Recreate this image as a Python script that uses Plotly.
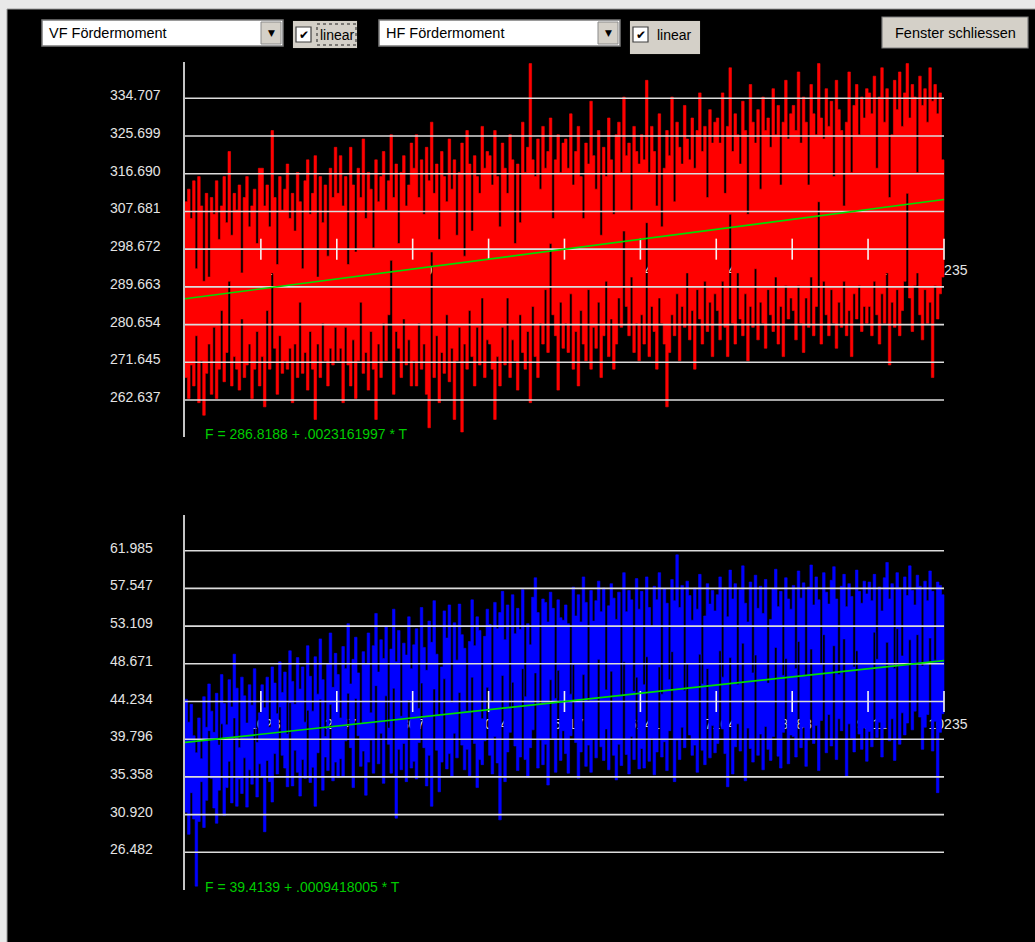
import numpy as np
import plotly.graph_objects as go

# ---------------- data ----------------
vf_ticks = [262.637, 271.645, 280.654, 289.663, 298.672, 307.681, 316.690, 325.699, 334.707]
hf_ticks = [26.482, 30.920, 35.358, 39.796, 44.234, 48.671, 53.109, 57.547, 61.985]
t_ticks = [1023, 2047, 3070, 4094, 5117, 6141, 7164, 8188, 9211, 10235]
t_max = 10235
vf_axis_value = 298.672
hf_axis_value = 44.234
vf_fit = [286.8188, 0.0023161997]
hf_fit = [39.4139, 0.0009418005]
vf_fit_text = "F = 286.8188 + .0023161997 * T"
hf_fit_text = "F = 39.4139 + .0009418005 * T"

# per display column: highest and lowest sample value (VF Fördermoment)
vf_hi = [
 310,313,306,315,294,316,309,291,312,292,311,307,315,301,309,316,305,322,302,312,308,314,293,311,316,304,309,313,300,318,
 318,309,314,304,327,311,295,316,308,313,319,306,312,303,317,310,294,315,320,307,312,321,292,316,305,314,297,318,311,323,
 312,321,309,316,295,323,314,298,318,311,325,306,317,313,299,320,310,316,322,308,315,326,311,319,300,317,321,309,314,324,
 318,326,311,320,307,323,315,329,312,319,301,322,316,310,325,313,320,302,317,324,297,327,319,303,321,316,312,328,318,322,
 321,314,327,316,304,324,318,312,326,320,300,319,305,329,317,323,343,320,316,325,313,328,318,322,330,306,320,326,317,324,
 325,318,331,314,322,328,316,306,324,319,334,321,313,327,302,323,316,330,320,307,326,329,317,335,321,324,308,328,322,319,
 326,320,339,317,328,322,309,331,304,318,327,321,335,310,329,323,319,333,325,320,330,318,327,336,322,328,311,332,324,329,
 330,324,336,312,328,342,322,331,326,319,334,327,307,338,329,324,332,313,335,327,330,323,337,326,333,314,329,339,325,331,
 333,327,341,324,335,329,314,338,331,326,343,330,325,337,328,334,316,339,332,327,309,329,341,317,333,338,326,335,330,337,
 336,331,340,318,335,342,329,337,311,326,339,332,341,328,336,343,330,338,335,317,340,333,337,329,342,334,338,331,336,320,
]
vf_lo = [
 268,263,271,266,278,262,272,259,269,276,264,280,263,270,284,267,274,291,266,273,270,265,282,268,271,276,263,270,279,266,
 273,261,284,270,293,275,264,278,269,272,270,275,262,276,268,286,269,274,265,279,270,258,276,268,281,272,266,275,271,280,
 272,275,262,280,271,266,277,263,272,286,269,274,265,279,270,258,276,268,281,272,283,296,264,279,275,268,282,271,277,266,
 272,266,281,270,276,264,256,298,268,278,262,274,269,283,267,275,258,272,280,255,276,270,284,273,266,280,271,287,268,277,
 276,270,258,273,266,280,271,287,268,277,272,265,283,274,270,279,262,285,273,268,281,276,289,274,300,283,278,265,286,275,
 281,274,288,270,279,266,284,276,272,289,270,280,275,286,268,278,291,273,282,270,276,287,280,303,285,278,292,274,281,272,
 283,276,305,273,285,279,270,287,281,276,261,274,283,278,288,272,285,280,293,277,284,270,289,282,276,291,279,286,273,288,
 284,277,291,280,273,307,281,276,293,282,278,288,272,285,280,294,277,286,281,275,289,283,279,292,276,285,273,290,282,287,
 284,277,290,281,274,287,280,292,278,285,310,276,291,283,278,289,281,275,286,280,291,278,284,273,288,282,290,279,285,281,
 285,278,291,283,276,288,281,293,271,286,280,289,278,284,291,312,287,279,290,293,283,277,289,281,286,268,290,282,288,292,
]

# per display column: highest and lowest sample value (HF Fördermoment)
hf_hi = [
 44.5,41.8,43.9,40.2,38.2,42.3,37.5,44.8,41.2,46.3,43.1,40.6,45.2,39.1,47.4,44.0,41.5,46.8,43.6,49.8,45.8,38.8,47.1,44.9,41.7,46.2,43.8,48.1,39.4,42.9,
 46.2,43.5,47.1,41.2,48.3,46.4,42.8,48.9,45.3,47.7,40.4,50.2,46.6,43.9,49.4,45.7,48.3,41.8,50.8,47.2,43.1,49.5,45.1,51.6,46.8,40.1,48.7,52.3,45.9,49.9,
 47.4,42.3,50.7,48.1,53.4,46.3,49.2,51.8,47.6,41.6,50.1,48.6,52.3,42.9,50.8,54.6,47.7,51.5,49.3,53.1,41.1,50.4,55.1,48.9,52.6,42.5,51.1,49.7,54.2,48.1,
 50.9,52.8,43.4,55.3,50.6,47.9,53.7,51.2,56.1,49.8,42.6,48.3,54.9,51.7,55.6,44.1,53.5,49.1,55.7,52.1,50.5,43.1,51.3,56.2,50.8,54.2,52.6,42.2,51.9,55.1,
 53.3,44.2,55.9,52.8,54.7,57.2,51.5,55.6,43.5,56.8,52.2,55.2,52.7,57.4,44.8,53.4,50.9,56.5,58.8,54.7,43.9,56.3,55.9,53.6,57.1,55.2,44.6,56.2,54.1,53.8,
 55.6,53.4,45.1,57.7,54.3,56.8,53.6,58.9,55.9,44.3,57.3,53.7,56.1,58.4,54.8,57.6,45.6,55.5,58.1,56.4,53.9,57.1,44.9,59.4,54.8,57.3,56.2,45.4,58.7,55.1,
 57.2,46.2,58.9,55.3,53.1,57.8,56.2,59.4,45.1,57.5,55.8,46.8,58.6,56.1,61.5,55.3,57.9,45.5,58.4,56.7,53.8,57.6,55.1,59.2,46.3,54.3,58.1,55.7,57.3,54.9,
 56.8,58.9,47.1,57.6,54.2,59.7,56.3,58.1,46.2,57.4,60.2,55.8,53.6,58.3,47.6,59.1,55.2,57.8,54.6,58.6,46.4,53.9,57.5,59.8,55.4,57.2,47.3,58.8,56.3,55.1,
 57.9,48.1,59.6,56.4,58.2,47.2,57.7,60.3,55.6,58.9,56.2,48.6,59.4,57.1,55.7,58.5,60.1,56.3,47.4,57.8,59.2,55.4,58.1,56.6,48.3,59.7,57.2,55.8,58.4,56.9,
 58.3,56.1,59.2,49.2,57.7,54.9,58.8,60.6,56.3,58.1,48.1,59.4,57.6,49.6,58.9,56.7,60.2,57.3,55.6,59.1,57.8,48.4,58.4,56.1,59.6,57.2,49.1,58.3,57.9,56.8,
]
hf_lo = [
 31.2,28.6,33.5,30.4,22.5,30.1,34.8,29.4,32.6,40.8,35.2,31.7,29.9,33.8,41.6,30.8,34.1,37.2,32.3,42.3,31.9,35.1,33.4,37.6,31.8,36.2,34.5,41.1,33.0,36.9,
 35.4,28.9,37.3,34.8,32.4,38.1,35.7,43.6,37.9,36.4,34.2,44.1,34.3,38.5,35.9,33.1,37.4,35.2,43.2,34.7,36.5,31.9,38.2,44.5,33.8,37.7,36.1,43.9,34.9,37.1,
 35.3,37.5,35.4,39.6,45.2,38.8,34.1,44.6,40.2,36.6,38.4,33.2,37.1,39.7,35.8,46.1,36.9,40.5,34.6,44.9,39.2,35.8,45.8,30.5,38.6,36.2,39.3,34.8,44.4,36.4,
 37.2,35.1,39.4,46.4,38.8,34.3,37.9,31.9,45.7,38.5,33.6,37.1,46.9,36.3,38.1,35.4,40.5,37.6,45.3,39.1,36.2,38.6,35.5,47.1,39.3,34.1,37.4,36.8,39.6,45.9,
 37.9,35.7,40.1,37.0,30.3,47.3,34.8,38.3,40.6,46.5,39.0,36.1,37.7,48.1,37.4,35.3,38.8,40.9,47.6,36.4,39.7,36.8,39.2,34.4,46.8,39.9,35.9,47.9,37.3,40.8,
 38.1,35.8,40.2,48.6,39.4,35.2,38.3,47.4,36.6,39.1,35.9,39.8,37.6,49.2,38.9,37.3,41.0,36.2,47.8,37.9,35.0,39.2,36.7,48.9,38.0,35.7,40.1,37.4,47.1,36.3,
 38.7,36.4,49.5,37.2,39.9,35.6,38.3,48.3,37.7,39.5,36.1,40.8,50.1,34.8,39.7,37.4,41.2,38.8,48.7,40.3,37.9,39.1,35.9,49.8,38.5,36.8,48.1,37.6,41.4,38.2,
 39.3,50.2,41.0,38.1,34.2,49.4,35.7,38.9,41.6,38.4,51.1,34.9,41.1,38.7,37.1,49.7,37.9,40.4,36.2,41.3,38.6,37.3,40.1,50.6,37.8,36.4,40.6,49.3,36.9,40.3,
 40.1,37.7,51.3,38.8,41.2,36.6,39.7,50.4,39.3,41.4,36.1,42.0,52.1,38.2,42.7,39.0,50.8,37.4,42.2,40.8,51.6,35.4,41.6,39.9,38.3,50.2,40.4,38.6,41.1,37.2,
 40.7,38.9,52.4,40.0,41.8,37.7,41.1,51.2,39.6,42.2,37.3,52.8,39.2,42.9,40.3,41.7,51.5,40.9,43.1,52.1,42.4,38.6,41.2,42.7,51.7,38.4,41.9,33.5,40.6,42.8,
]

# ---------------- geometry (pixels) ----------------
W, H = 1035, 942
X_L, X_R = 185, 944           # pixel span of T = 0 .. t_max
X_END = 1000                  # plot area extends a bit further (room for the last tick label)
TOP_Y0, TOP_Y1 = 62, 437      # top plot pixel extent
BOT_Y0, BOT_Y1 = 515, 890     # bottom plot pixel extent
TOP_G0, TOP_G1 = 98.3, 400.0  # pixel rows of the max/min grid line
BOT_G0, BOT_G1 = 550.7, 852.3


def px(x):
    return x / W


def py(y):
    return 1 - y / H


def yrange(ticks, g_top, g_bot, y0, y1):
    upp = (max(ticks) - min(ticks)) / (g_bot - g_top)
    return [min(ticks) - (y1 - g_bot) * upp, max(ticks) + (g_top - y0) * upp], upp


top_range, top_upp = yrange(vf_ticks, TOP_G0, TOP_G1, TOP_Y0, TOP_Y1)
bot_range, bot_upp = yrange(hf_ticks, BOT_G0, BOT_G1, BOT_Y0, BOT_Y1)
t_per_px = t_max / (X_R - X_L)
x_range = [0, t_max * (X_END - X_L) / (X_R - X_L)]

FONT = "Liberation Sans, Arial, sans-serif"
LABEL_COL = "#e4e4e4"
GRID_COL = "#dcdcdc"
GREEN = "#00dd00"

fig = go.Figure()


def add_panel(hi, lo, ticks, axis_value, fit, color, xa, ya, upp, label_dy):
    n = len(hi)
    edges = list(np.linspace(0, t_max, n + 1))
    # x tick labels (drawn under the data)
    fig.add_trace(go.Scatter(
        x=[t + 4 * t_per_px for t in t_ticks], y=[axis_value - label_dy * upp] * len(t_ticks),
        mode="text", text=[str(t) for t in t_ticks], textposition="middle center",
        textfont=dict(family=FONT, size=14, color=LABEL_COL),
        xaxis=xa, yaxis=ya, hoverinfo="skip"))
    # signal: per column min..max band, drawn as a stepped filled outline
    sx = edges + edges[::-1]
    sy = list(hi) + [hi[-1]] + list(lo[::-1]) + [lo[0]]
    fig.add_trace(go.Scatter(
        x=sx, y=sy, mode="lines", fill="toself", fillcolor=color,
        line=dict(color=color, width=0.6, shape="hv"),
        xaxis=xa, yaxis=ya, hoverinfo="skip"))
    # grid lines (on top of the data)
    gx, gy = [], []
    for v in ticks:
        gx += [0, t_max, None]
        gy += [v, v, None]
    fig.add_trace(go.Scatter(
        x=gx, y=gy, mode="lines", line=dict(color=GRID_COL, width=1.6),
        xaxis=xa, yaxis=ya, hoverinfo="skip"))
    # x tick marks
    fig.add_trace(go.Scatter(
        x=t_ticks, y=[axis_value] * len(t_ticks), mode="markers",
        marker=dict(symbol="line-ns", size=15, line=dict(color="#f4f4f4", width=1.6)),
        xaxis=xa, yaxis=ya, hoverinfo="skip"))
    # regression line
    fig.add_trace(go.Scatter(
        x=[0, t_max], y=[fit[0], fit[0] + fit[1] * t_max], mode="lines",
        line=dict(color=GREEN, width=1.7), xaxis=xa, yaxis=ya, hoverinfo="skip"))


add_panel(vf_hi, vf_lo, vf_ticks, vf_axis_value, vf_fit, "#ff0000", "x", "y", top_upp, 22)
add_panel(hf_hi, hf_lo, hf_ticks, hf_axis_value, hf_fit, "#0000ff", "x2", "y2", bot_upp, 24)

axis_common = dict(showgrid=False, zeroline=False, showticklabels=False, ticks="")
fig.update_layout(
    width=W, height=H, margin=dict(l=0, r=0, t=0, b=0),
    paper_bgcolor="#e9e9e9", plot_bgcolor="#000000", showlegend=False,
    xaxis=dict(domain=[px(X_L), px(X_END)], range=x_range, visible=False, anchor="y"),
    yaxis=dict(domain=[py(TOP_Y1), py(TOP_Y0)], range=top_range, anchor="x",
               showline=True, linecolor="#c4c4c4", linewidth=2, **axis_common),
    xaxis2=dict(domain=[px(X_L), px(X_END)], range=x_range, visible=False, anchor="y2"),
    yaxis2=dict(domain=[py(BOT_Y1), py(BOT_Y0)], range=bot_range, anchor="x2",
                showline=True, linecolor="#c4c4c4", linewidth=2, **axis_common),
)

shapes = []
annotations = []

# black window panel
shapes.append(dict(type="rect", xref="paper", yref="paper", layer="below",
                   x0=px(7), x1=px(1036), y0=py(943), y1=py(9),
                   fillcolor="#000000", line=dict(color="#9c9c9c", width=1)))


def rect(x0, y0, x1, y1, fill, line="#808080", lw=1, dash="solid"):
    shapes.append(dict(type="rect", xref="paper", yref="paper", layer="above",
                       x0=px(x0), x1=px(x1), y0=py(y1), y1=py(y0),
                       fillcolor=fill, line=dict(color=line, width=lw, dash=dash)))


def text(x, y, s, size=14, color="#000000", anchor="left", family=FONT):
    annotations.append(dict(xref="paper", yref="paper", x=px(x), y=py(y), text=s,
                            showarrow=False, xanchor=anchor, yanchor="middle",
                            font=dict(family=family, size=size, color=color)))


BTN = "#d4d0c8"


def dropdown(x0, label):
    rect(x0, 20, x0 + 241, 46, "#ffffff", "#7a7a7a", 1.5)
    rect(x0 + 219, 22, x0 + 239, 44, BTN, "#8a8a8a", 1)
    text(x0 + 229, 33, "▼", size=9, anchor="center", family="DejaVu Sans")
    text(x0 + 5, 33, label, size=14.5)


def checkbox(x0, x1, y1, focus):
    rect(x0, 21, x1, y1, BTN, BTN, 0.1)
    rect(x0 + 3, 27, x0 + 18, 42, "#ffffff", "#404040", 1.2)
    text(x0 + 10.5, 34.5, "✔", size=12, anchor="center", family="DejaVu Sans")
    if focus:
        rect(x0 + 24, 24, x0 + 63, 45, "rgba(0,0,0,0)", "#202020", 1, "dot")
    text(x0 + 25, 34.5, "linear", size=14)


dropdown(42, "VF Fördermoment")
checkbox(293, 357, 48, True)
dropdown(379, "HF Fördermoment")
checkbox(630, 700, 54, False)

# close button
rect(882, 17, 1028, 48, BTN, "#7c7c7c", 1.2)
text(955, 33, "Fenster schliessen", size=14.5, anchor="center")

# y tick labels (left aligned, as in the reference)
for v in vf_ticks:
    annotations.append(dict(xref="paper", yref="y", x=px(108), y=v, text=f"{v:.3f}",
                            showarrow=False, xanchor="left", yanchor="middle", yshift=3,
                            font=dict(family=FONT, size=14, color=LABEL_COL)))
for v in hf_ticks:
    annotations.append(dict(xref="paper", yref="y2", x=px(108), y=v, text=f"{v:.3f}",
                            showarrow=False, xanchor="left", yanchor="middle", yshift=3,
                            font=dict(family=FONT, size=14, color=LABEL_COL)))

# regression formulas
text(203, 434, vf_fit_text, size=14, color="#00cc00")
text(203, 887, hf_fit_text, size=14, color="#00cc00")

fig.update_layout(shapes=shapes, annotations=annotations)
fig.write_html("out.html", config={"displayModeBar": False},
               post_script="document.body.style.margin='0';document.body.style.padding='0';")
